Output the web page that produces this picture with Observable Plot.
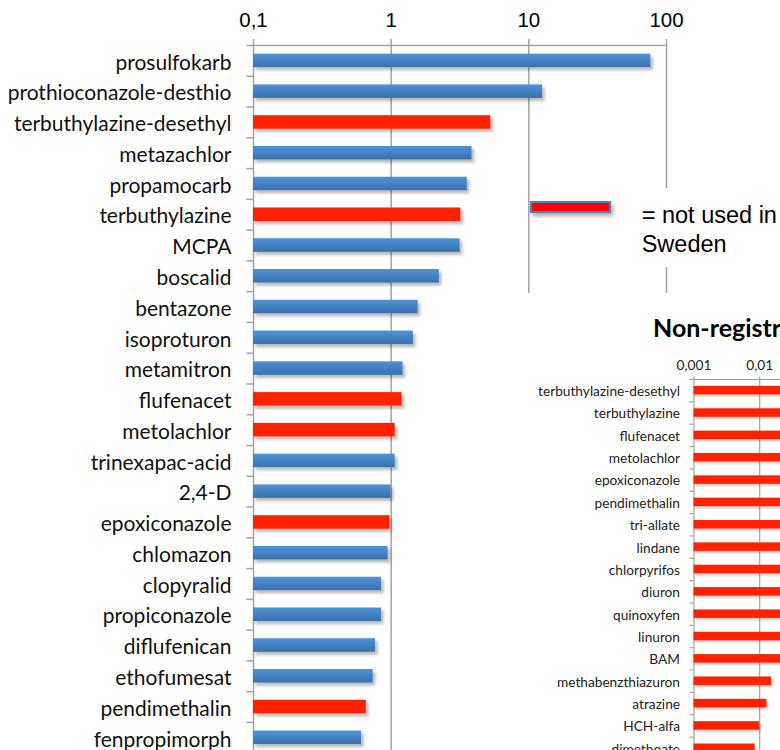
<!DOCTYPE html>
<html>
<head>
<meta charset="utf-8">
<script src="https://cdn.jsdelivr.net/npm/d3@7"></script>
<script src="https://cdn.jsdelivr.net/npm/@observablehq/plot@0.6"></script>
<style>
  html, body { margin: 0; padding: 0; background: #fff; }
  #wrap { position: relative; width: 780px; height: 750px; overflow: hidden; background: #fff; }
  #main { position: absolute; left: 0; top: 0; }
  #legendSwatch { position: absolute; left: 530px; top: 200.5px; width: 81px; height: 12.5px;
    background: #ff0000; border: 2px solid #4f81bd; box-sizing: border-box;
    box-shadow: 2px 3px 4px rgba(0,0,0,0.35); }
  #legendText { position: absolute; left: 636px; top: 188px; width: 160px; height: 79px;
    background: #fff; box-sizing: border-box; padding-left: 5.7px; padding-top: 12.5px;
    font-family: "Liberation Sans", Arial, sans-serif; font-size: 23.5px; line-height: 29.4px;
    color: #000; white-space: nowrap; }
  #inset { position: absolute; left: 522px; top: 293px; width: 600px; height: 520px; background: #fff; }
  #insetTitle { position: absolute; left: 131px; top: 21.5px; font-family: Lato, sans-serif;
    font-weight: bold; font-size: 25px; line-height: 25px; color: #000; white-space: nowrap; }
  #insetPlot { position: absolute; left: 0; top: 0; }
</style>
</head>
<body>
<div id="wrap">
  <div id="main"></div>
  <div id="legendSwatch"></div>
  <div id="legendText">= not used in<br>Sweden</div>
  <div id="inset">
    <div id="insetPlot"></div>
    <div id="insetTitle">Non-registred substances</div>
  </div>
</div>
<script>
// ---------- Main chart data ----------
const mainSubstances = [
  "prosulfokarb", "prothioconazole-desthio", "terbuthylazine-desethyl", "metazachlor",
  "propamocarb", "terbuthylazine", "MCPA", "boscalid", "bentazone", "isoproturon",
  "metamitron", "flufenacet", "metolachlor", "trinexapac-acid", "2,4-D", "epoxiconazole",
  "chlomazon", "clopyralid", "propiconazole", "diflufenican", "ethofumesat",
  "pendimethalin", "fenpropimorph"
];
const mainValues = [
  77, 12.6, 5.3, 3.87, 3.57, 3.21, 3.17, 2.24, 1.57, 1.45,
  1.22, 1.2, 1.07, 1.07, 1.0, 0.98, 0.95, 0.85, 0.85, 0.77, 0.74, 0.66, 0.61
];
const mainNotUsed = [
  false, false, true, false, false, true, false, false, false, false,
  false, true, true, false, false, true, false, false, false, false, false, true, false
];
const mainTicks = [0.1, 1, 10, 100];

// ---------- Inset chart data ----------
const insetSubstances = [
  "terbuthylazine-desethyl", "terbuthylazine", "flufenacet", "metolachlor", "epoxiconazole",
  "pendimethalin", "tri-allate", "lindane", "chlorpyrifos", "diuron", "quinoxyfen",
  "linuron", "BAM", "methabenzthiazuron", "atrazine", "HCH-alfa", "dimethoate"
];
const insetValues = [
  0.6, 0.35, 0.15, 0.12, 0.1, 0.07, 0.06, 0.05, 0.045, 0.04, 0.035,
  0.03, 0.025, 0.0151, 0.0129, 0.0100, 0.0085
];
const insetTicks = [0.001, 0.01, 0.1, 1, 10];

const fmt = d => String(d).replace(".", ",");
const SVGNS = "http://www.w3.org/2000/svg";
const makeDefs = (html) => () => {
  const defs = document.createElementNS(SVGNS, "defs");
  defs.innerHTML = html;
  return defs;
};

const gridColor = "#a3a3a3";
const blue = "url(#blueGrad)";
const red = "#ff2400";

// ---------- Main chart ----------
const step = 30.77, pad = 0.56, mainTop = 45;
const nMain = mainSubstances.length;
const mainRows = mainSubstances.map((name, i) => ({name, value: mainValues[i], notUsed: mainNotUsed[i]}));
const xMin = mainTicks[0];

const main = Plot.plot({
  width: 780,
  height: mainTop + nMain * step,
  marginLeft: 253, marginRight: 114, marginTop: mainTop, marginBottom: 0,
  style: {fontFamily: "Lato, sans-serif", fontSize: "21px", color: "#111", background: "transparent", overflow: "visible"},
  x: {type: "log", domain: [0.1, 100]},
  y: {domain: mainSubstances, padding: pad, round: false,
      range: [mainTop - pad * step / 2, mainTop + nMain * step + pad * step / 2]},
  marks: [
    makeDefs(`
      <linearGradient id="blueGrad" x1="0" y1="0" x2="0" y2="1">
        <stop offset="0" stop-color="#4d93d9"/>
        <stop offset="1" stop-color="#3a71ac"/>
      </linearGradient>
      <filter id="barShadow" x="-5%" y="-60%" width="115%" height="260%">
        <feDropShadow dx="2.5" dy="3" stdDeviation="1.8" flood-color="#000" flood-opacity="0.28"/>
      </filter>`),
    Plot.gridX({ticks: mainTicks, stroke: gridColor, strokeOpacity: 1, strokeWidth: 1.5}),
    Plot.axisX({anchor: "top", ticks: mainTicks, tickSize: 7, tickPadding: 11, stroke: gridColor,
      strokeWidth: 1.5, tickFormat: fmt, fontFamily: "Liberation Sans, Arial, sans-serif",
      fontSize: 20.5, fill: "#000", label: null}),
    Plot.ruleY([mainSubstances[0]], {dy: -step / 2, stroke: gridColor, strokeWidth: 1.5}),
    Plot.axisY({tickSize: 6.5, tickFormat: () => "", dy: -step / 2, stroke: gridColor, strokeWidth: 1.5, label: null}),
    Plot.axisY([mainSubstances[nMain - 1]], {tickSize: 6.5, tickFormat: () => "", dy: step / 2, stroke: gridColor, strokeWidth: 1.5, label: null}),
    Plot.axisY({tickSize: 0, tickPadding: 22, dy: 2, fontSize: 21, fill: "#111", label: null}),
    Plot.barX(mainRows.filter(d => !d.notUsed), {x1: () => xMin, x2: "value", y: "name", fill: blue}),
    Plot.barX(mainRows.filter(d => d.notUsed), {x1: () => xMin, x2: "value", y: "name", fill: red})
  ]
});
main.querySelectorAll('g[aria-label="bar"]').forEach(g => g.setAttribute("filter", "url(#barShadow)"));
document.getElementById("main").appendChild(main);

// ---------- Inset chart ----------
const insetStep = 22.35, insetPad = 0.62, insetTop = 86;
const nInset = insetSubstances.length;
const insetRows = insetSubstances.map((name, i) => ({name, value: insetValues[i]}));
const insetMin = insetTicks[0];
const inset = Plot.plot({
  width: 520,
  height: insetTop + nInset * insetStep,
  marginLeft: 171.5, marginRight: 85.7, marginTop: insetTop, marginBottom: 0,
  style: {fontFamily: "Lato, sans-serif", fontSize: "13.7px", color: "#222", background: "transparent", overflow: "visible"},
  x: {type: "log", domain: [0.001, 10]},
  y: {domain: insetSubstances, padding: insetPad, round: false,
      range: [insetTop - insetPad * insetStep / 2, insetTop + nInset * insetStep + insetPad * insetStep / 2]},
  marks: [
    makeDefs(`
      <filter id="insetShadow" x="-5%" y="-80%" width="115%" height="300%">
        <feDropShadow dx="1.5" dy="2" stdDeviation="1.2" flood-color="#000" flood-opacity="0.22"/>
      </filter>`),
    Plot.gridX({ticks: insetTicks, stroke: gridColor, strokeOpacity: 1, strokeWidth: 1.2}),
    Plot.axisX({anchor: "top", ticks: insetTicks, tickSize: 3.3, tickPadding: 6.5, stroke: gridColor,
      strokeWidth: 1.2, tickFormat: fmt, fontSize: 13.7, fill: "#222", label: null}),
    Plot.ruleY([insetSubstances[0]], {dy: -insetStep / 2, stroke: gridColor, strokeWidth: 1.2}),
    Plot.axisY({tickSize: 4, tickFormat: () => "", dy: -insetStep / 2, stroke: gridColor, strokeWidth: 1.2, label: null}),
    Plot.axisY({tickSize: 0, tickPadding: 14, dy: 1, fontSize: 13.7, fill: "#222", label: null}),
    Plot.barX(insetRows, {x1: () => insetMin, x2: "value", y: "name", fill: red})
  ]
});
inset.querySelectorAll('g[aria-label="bar"]').forEach(g => g.setAttribute("filter", "url(#insetShadow)"));
document.getElementById("insetPlot").appendChild(inset);
</script>
</body>
</html>
